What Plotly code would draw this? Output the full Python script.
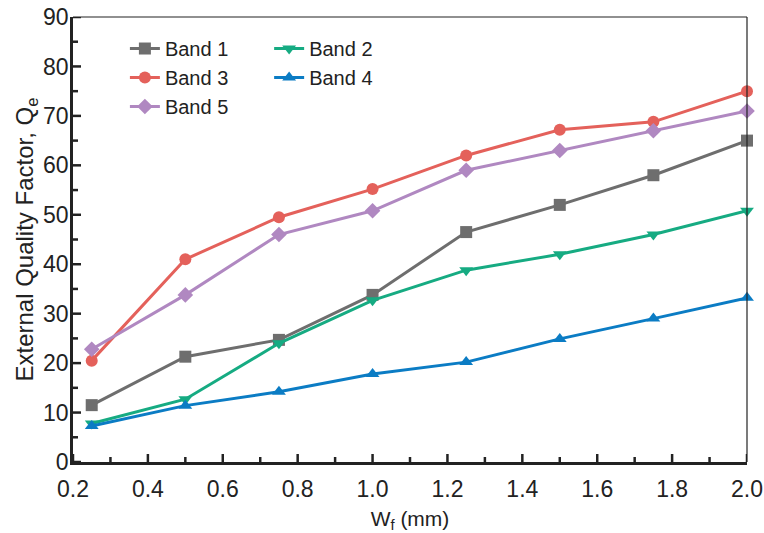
import plotly.graph_objects as go

# Strip width W_f (mm)
wf = [0.25, 0.5, 0.75, 1.0, 1.25, 1.5, 1.75, 2.0]

# External quality factor for each band
band1 = [11.5, 21.3, 24.7, 33.8, 46.5, 52.0, 58.0, 65.0]
band2 = [7.8, 12.7, 24.0, 32.7, 38.8, 42.0, 46.0, 50.8]
band3 = [20.5, 41.0, 49.5, 55.2, 62.0, 67.2, 68.8, 75.0]
band4 = [7.3, 11.4, 14.2, 17.8, 20.2, 24.9, 29.0, 33.2]
band5 = [22.8, 33.8, 46.0, 50.8, 59.0, 63.0, 67.0, 71.0]

x_ticks = [0.2, 0.4, 0.6, 0.8, 1.0, 1.2, 1.4, 1.6, 1.8, 2.0]
y_ticks = [0, 10, 20, 30, 40, 50, 60, 70, 80, 90]
x_range = [0.2, 2.0]
y_range = [0, 90]

series = [
    ("Band 1", band1, "#6e6e6e", "square", "legend"),
    ("Band 2", band2, "#16ab82", "triangle-down", "legend2"),
    ("Band 3", band3, "#e4615b", "circle", "legend"),
    ("Band 4", band4, "#0b7cc4", "triangle-up", "legend2"),
    ("Band 5", band5, "#b088c1", "diamond", "legend"),
]

FONT = "Liberation Sans, Arial, sans-serif"
INK = "#222222"

W, H = 764, 533
M = dict(l=73, r=17, t=17, b=71)
plot_w = W - M["l"] - M["r"]
plot_h = H - M["t"] - M["b"]

# Inward tick marks: major ticks at the labelled values, minor ticks halfway between.
x_minor = [(a + b) / 2 for a, b in zip(x_ticks[:-1], x_ticks[1:])]
y_minor = [(a + b) / 2 for a, b in zip(y_ticks[:-1], y_ticks[1:])]
px_x = (x_range[1] - x_range[0]) / plot_w   # data units per pixel
px_y = (y_range[1] - y_range[0]) / plot_h

tx, ty = [], []
for vals, length in ((x_ticks, 8), (x_minor, 5)):
    for v in vals:
        tx += [v, v, None]
        ty += [y_range[0], y_range[0] + length * px_y, None]
for vals, length in ((y_ticks, 8), (y_minor, 5)):
    for v in vals:
        tx += [x_range[0], x_range[0] + length * px_x, None]
        ty += [v, v, None]

fig = go.Figure()
fig.add_trace(go.Scatter(
    x=tx, y=ty, mode="lines", line=dict(color=INK, width=2.5),
    hoverinfo="skip", showlegend=False,
))
for name, ys, color, sym, leg in series:
    fig.add_trace(go.Scatter(
        x=wf, y=ys, name=name, mode="lines+markers",
        line=dict(color=color, width=3),
        marker=dict(symbol=sym, size=12, color=color),
        legend=leg, cliponaxis=False,
    ))

legend_common = dict(
    font=dict(family=FONT, size=20, color=INK),
    bgcolor="rgba(0,0,0,0)", yanchor="top", xanchor="left",
    tracegroupgap=0, itemwidth=30,
)

fig.update_layout(
    template="none",
    width=W, height=H,
    margin=M,
    paper_bgcolor="white", plot_bgcolor="white",
    font=dict(family=FONT, size=22, color=INK),
    legend=dict(x=0.077, y=0.973, **legend_common),
    legend2=dict(x=0.291, y=0.973, **legend_common),
    xaxis=dict(
        range=x_range, tickmode="array", tickvals=x_ticks,
        tickformat=".1f", ticks="",
        showline=True, linewidth=2.5, linecolor=INK, mirror=False,
        showgrid=False, zeroline=False, automargin=False,
        ticklabelstandoff=5,
        tickfont=dict(family=FONT, size=23, color=INK),
        title=dict(text="W<sub>f</sub> (mm)", font=dict(family=FONT, size=21, color=INK), standoff=12),
    ),
    yaxis=dict(
        range=y_range, tickmode="array", tickvals=y_ticks, ticks="",
        showline=True, linewidth=2.5, linecolor=INK, mirror=False,
        showgrid=False, zeroline=False, automargin=False,
        ticklabelstandoff=-3,
        tickfont=dict(family=FONT, size=23, color=INK),
        title=dict(text="External Quality Factor, Q<sub>e</sub>", font=dict(family=FONT, size=24, color=INK), standoff=3),
    ),
)

# thin top and right frame lines
fig.add_shape(type="line", xref="paper", yref="paper", x0=0, x1=1, y0=1, y1=1,
              line=dict(color=INK, width=1.2))
fig.add_shape(type="line", xref="paper", yref="paper", x0=1, x1=1, y0=0, y1=1,
              line=dict(color=INK, width=1.2))

fig.write_html("out.html")
